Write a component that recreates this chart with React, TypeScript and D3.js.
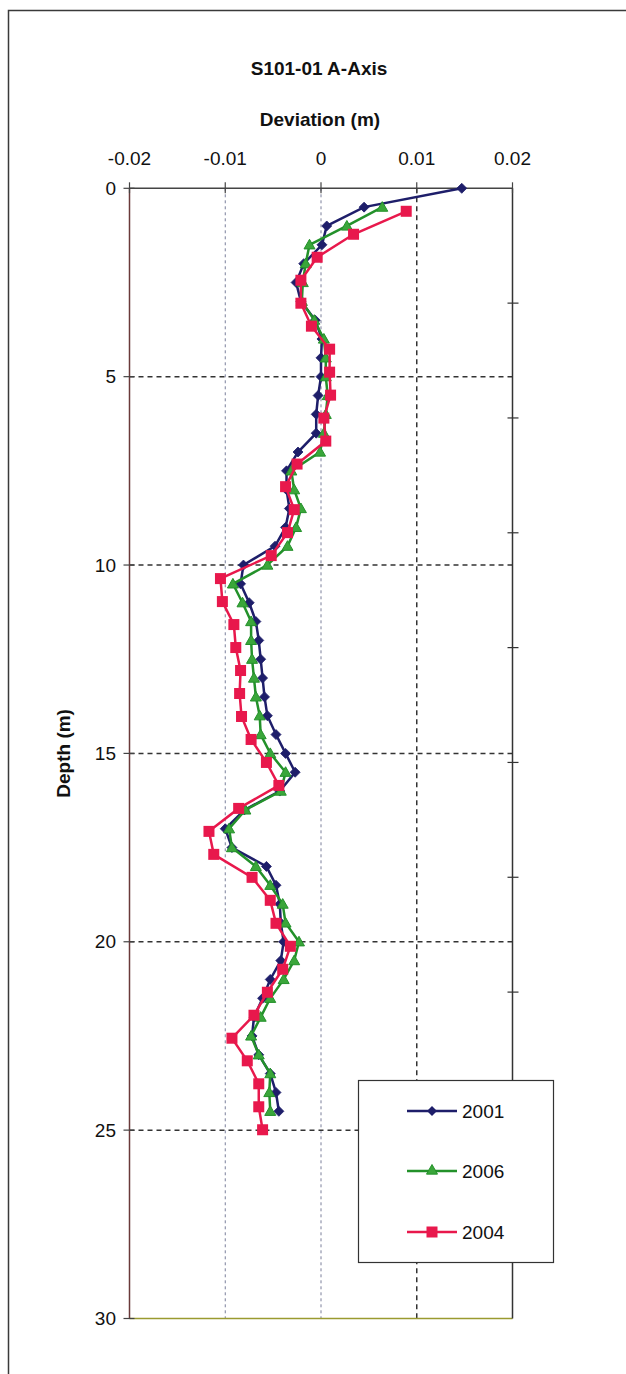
import React from "react";
import * as d3 from "d3";

const depths2001 = [0, 0.5, 1, 1.5, 2, 2.5, 3, 3.5, 4, 4.5, 5, 5.5, 6, 6.5, 7, 7.5, 8, 8.5, 9, 9.5, 10, 10.5, 11, 11.5, 12, 12.5, 13, 13.5, 14, 14.5, 15, 15.5, 16, 16.5, 17, 17.5, 18, 18.5, 19, 19.5, 20, 20.5, 21, 21.5, 22, 22.5, 23, 23.5, 24, 24.5];
const values2001 = [0.0147, 0.0045, 0.0006, 0.0001, -0.0018, -0.0026, -0.0021, -0.0006, 0.0001, 0.0, 0.0, -0.0003, -0.0005, -0.0005, -0.0024, -0.0036, -0.0036, -0.0033, -0.0037, -0.0048, -0.0081, -0.0084, -0.0075, -0.0068, -0.0065, -0.0063, -0.0061, -0.0059, -0.0056, -0.0047, -0.0037, -0.0027, -0.0043, -0.008, -0.01, -0.0093, -0.0057, -0.0047, -0.0043, -0.0042, -0.0039, -0.0042, -0.0053, -0.0061, -0.007, -0.0072, -0.0065, -0.0053, -0.0047, -0.0044];

const depths2006 = [0.5, 1, 1.5, 2, 2.5, 3, 3.5, 4, 4.5, 5, 5.5, 6, 6.5, 7, 7.5, 8, 8.5, 9, 9.5, 10, 10.5, 11, 11.5, 12, 12.5, 13, 13.5, 14, 14.5, 15, 15.5, 16, 16.5, 17, 17.5, 18, 18.5, 19, 19.5, 20, 20.5, 21, 21.5, 22, 22.5, 23, 23.5, 24, 24.5];
const values2006 = [0.0064, 0.0027, -0.0012, -0.0016, -0.0019, -0.002, -0.0007, 0.0003, 0.0005, 0.0005, 0.0007, 0.0005, 0.0003, -0.0001, -0.0031, -0.0028, -0.0021, -0.0026, -0.0035, -0.0056, -0.0092, -0.0082, -0.0073, -0.0073, -0.0072, -0.007, -0.0068, -0.0064, -0.0063, -0.0053, -0.0037, -0.0042, -0.0079, -0.0096, -0.0093, -0.0068, -0.0053, -0.004, -0.0037, -0.0023, -0.0028, -0.0039, -0.0053, -0.0063, -0.0073, -0.0065, -0.0053, -0.0054, -0.0053];

const depths2004 = [0.61, 1.22, 1.83, 2.44, 3.05, 3.66, 4.27, 4.88, 5.49, 6.1, 6.71, 7.32, 7.92, 8.53, 9.14, 9.75, 10.36, 10.97, 11.58, 12.19, 12.8, 13.41, 14.02, 14.63, 15.24, 15.85, 16.46, 17.07, 17.68, 18.29, 18.9, 19.51, 20.12, 20.73, 21.34, 21.95, 22.56, 23.16, 23.77, 24.38, 24.99];
const values2004 = [0.0089, 0.0034, -0.0004, -0.0021, -0.0021, -0.001, 0.0009, 0.0009, 0.001, 0.0003, 0.0005, -0.0025, -0.0037, -0.0028, -0.0035, -0.0052, -0.0105, -0.0103, -0.0091, -0.0089, -0.0084, -0.0085, -0.0083, -0.0073, -0.0057, -0.0044, -0.0086, -0.0117, -0.0112, -0.0072, -0.0053, -0.0047, -0.0032, -0.004, -0.0056, -0.007, -0.0093, -0.0077, -0.0065, -0.0065, -0.0061];

const xTicks = [-0.02, -0.01, 0, 0.01, 0.02];
const xTickLabels = ["-0.02", "-0.01", "0", "0.01", "0.02"];
const yTicks = [0, 5, 10, 15, 20, 25, 30];
const rightTicksFt = [10, 20, 30, 40, 50, 60, 70, 80, 90];

const title = "S101-01 A-Axis";
const xTitle = "Deviation (m)";
const yTitle = "Depth (m)";

const FONT = "'Liberation Sans', Arial, sans-serif";

const L = 129.5, R = 512.5, T = 188.3, B = 1318.5;

export default function App() {
  const x = d3.scaleLinear().domain([-0.02, 0.02]).range([L, R]);
  const y = d3.scaleLinear().domain([0, 30]).range([T, B]);
  const yFt = d3.scaleLinear().domain([0, 30 / 0.3048]).range([T, B]);

  const line = d3.line<[number, number]>().x((d) => x(d[1])).y((d) => y(d[0]));

  const s2001 = depths2001.map((d, i) => [d, values2001[i]] as [number, number]);
  const s2006 = depths2006.map((d, i) => [d, values2006[i]] as [number, number]);
  const s2004 = depths2004.map((d, i) => [d, values2004[i]] as [number, number]);

  const blue = "#1e1e6a";
  const green = "#23912a";
  const greenFill = "#3aa63a";
  const red = "#e8184c";

  const diamond = (cx: number, cy: number, r: number) =>
    `M${cx},${cy - r}L${cx + r},${cy}L${cx},${cy + r}L${cx - r},${cy}Z`;
  const tri = (cx: number, cy: number, r: number) =>
    `M${cx},${cy - r}L${cx + r},${cy + r * 0.75}L${cx - r},${cy + r * 0.75}Z`;

  const legendItems = [
    { label: "2001", color: blue, kind: "d" },
    { label: "2006", color: green, kind: "t" },
    { label: "2004", color: red, kind: "s" },
  ];
  const legendY = [1111, 1171, 1232];

  return (
    <svg
      width={626}
      height={1374}
      style={{ position: "absolute", left: 0, top: 0, background: "#fff", overflow: "hidden" }}
      fontFamily={FONT}
    >
      <rect x={0} y={0} width={626} height={1374} fill="#fff" />
      {/* outer frame */}
      <rect x={8.5} y={10.5} width={700} height={1500} fill="none" stroke="#3a3a3a" strokeWidth={1.5} />

      {/* titles */}
      <text x={319} y={75} textAnchor="middle" fontSize={19} fontWeight="bold" fill="#111">{title}</text>
      <text x={320} y={126} textAnchor="middle" fontSize={19} fontWeight="bold" fill="#111">{xTitle}</text>
      <text
        transform={`translate(70,${(T + B) / 2}) rotate(-90)`}
        textAnchor="middle"
        fontSize={19}
        fontWeight="bold"
        fill="#111"
      >
        {yTitle}
      </text>

      {/* vertical grid */}
      {[-0.01, 0].map((v) => (
        <line key={"vg" + v} x1={x(v)} x2={x(v)} y1={T} y2={B} stroke="#7a7f9a" strokeWidth={1} strokeDasharray="3,3" />
      ))}
      <line x1={x(0.01)} x2={x(0.01)} y1={T} y2={B} stroke="#333" strokeWidth={1.5} strokeDasharray="5,4" />

      {/* horizontal grid */}
      {[5, 10, 15, 20, 25].map((v) => (
        <line key={"hg" + v} x1={L} x2={R} y1={y(v)} y2={y(v)} stroke="#333" strokeWidth={1.5} strokeDasharray="5,4" />
      ))}

      {/* axes */}
      <line x1={L} x2={R} y1={T} y2={T} stroke="#444" strokeWidth={1.5} />
      <line x1={L} x2={R} y1={B} y2={B} stroke="#9a9a30" strokeWidth={1.5} />
      <line x1={L} x2={L} y1={T} y2={B} stroke="#6a3a3a" strokeWidth={1.5} />
      <line x1={R} x2={R} y1={T} y2={B} stroke="#333" strokeWidth={1.5} />

      {xTicks.map((v, i) => (
        <g key={"xt" + v}>
          <line x1={x(v)} x2={x(v)} y1={T - 6} y2={T + 5} stroke="#444" strokeWidth={1.2} />
          <text x={x(v)} y={165} textAnchor="middle" fontSize={19} fill="#111">{xTickLabels[i]}</text>
        </g>
      ))}
      {yTicks.map((v) => (
        <g key={"yt" + v}>
          <line x1={L - 6} x2={L + 5} y1={y(v)} y2={y(v)} stroke="#444" strokeWidth={1.2} />
          <text x={116} y={y(v)} dy="0.35em" textAnchor="end" fontSize={19} fill="#111">{v}</text>
        </g>
      ))}
      {rightTicksFt.map((v) => (
        <line key={"rt" + v} x1={R - 5} x2={R + 6} y1={yFt(v)} y2={yFt(v)} stroke="#333" strokeWidth={1.2} />
      ))}

      {/* series */}
      <path d={line(s2001) || ""} fill="none" stroke={blue} strokeWidth={2.5} />
      {s2001.map((d, i) => (
        <path key={"b" + i} d={diamond(x(d[1]), y(d[0]), 5)} fill={blue} stroke={blue} strokeWidth={0.8} />
      ))}
      <path d={line(s2006) || ""} fill="none" stroke={green} strokeWidth={2.5} />
      {s2006.map((d, i) => (
        <path key={"g" + i} d={tri(x(d[1]), y(d[0]), 5.5)} fill={greenFill} stroke={green} strokeWidth={1} />
      ))}
      <path d={line(s2004) || ""} fill="none" stroke={red} strokeWidth={2.5} />
      {s2004.map((d, i) => (
        <rect key={"r" + i} x={x(d[1]) - 5.5} y={y(d[0]) - 5.5} width={11} height={11} fill={red} />
      ))}

      {/* legend */}
      <rect x={358.5} y={1080.5} width={195} height={182} fill="#fff" stroke="#333" strokeWidth={1.2} />
      {legendItems.map((it, i) => {
        const ly = legendY[i];
        return (
          <g key={it.label}>
            <line x1={407} x2={457} y1={ly} y2={ly} stroke={it.color} strokeWidth={2.5} />
            {it.kind === "d" && <path d={diamond(432, ly, 5)} fill={blue} />}
            {it.kind === "t" && <path d={tri(432, ly - 1, 5.5)} fill={greenFill} stroke={green} strokeWidth={1} />}
            {it.kind === "s" && <rect x={426.5} y={ly - 5.5} width={11} height={11} fill={red} />}
            <text x={462} y={ly} dy="0.35em" fontSize={19} fill="#111">{it.label}</text>
          </g>
        );
      })}
    </svg>
  );
}
